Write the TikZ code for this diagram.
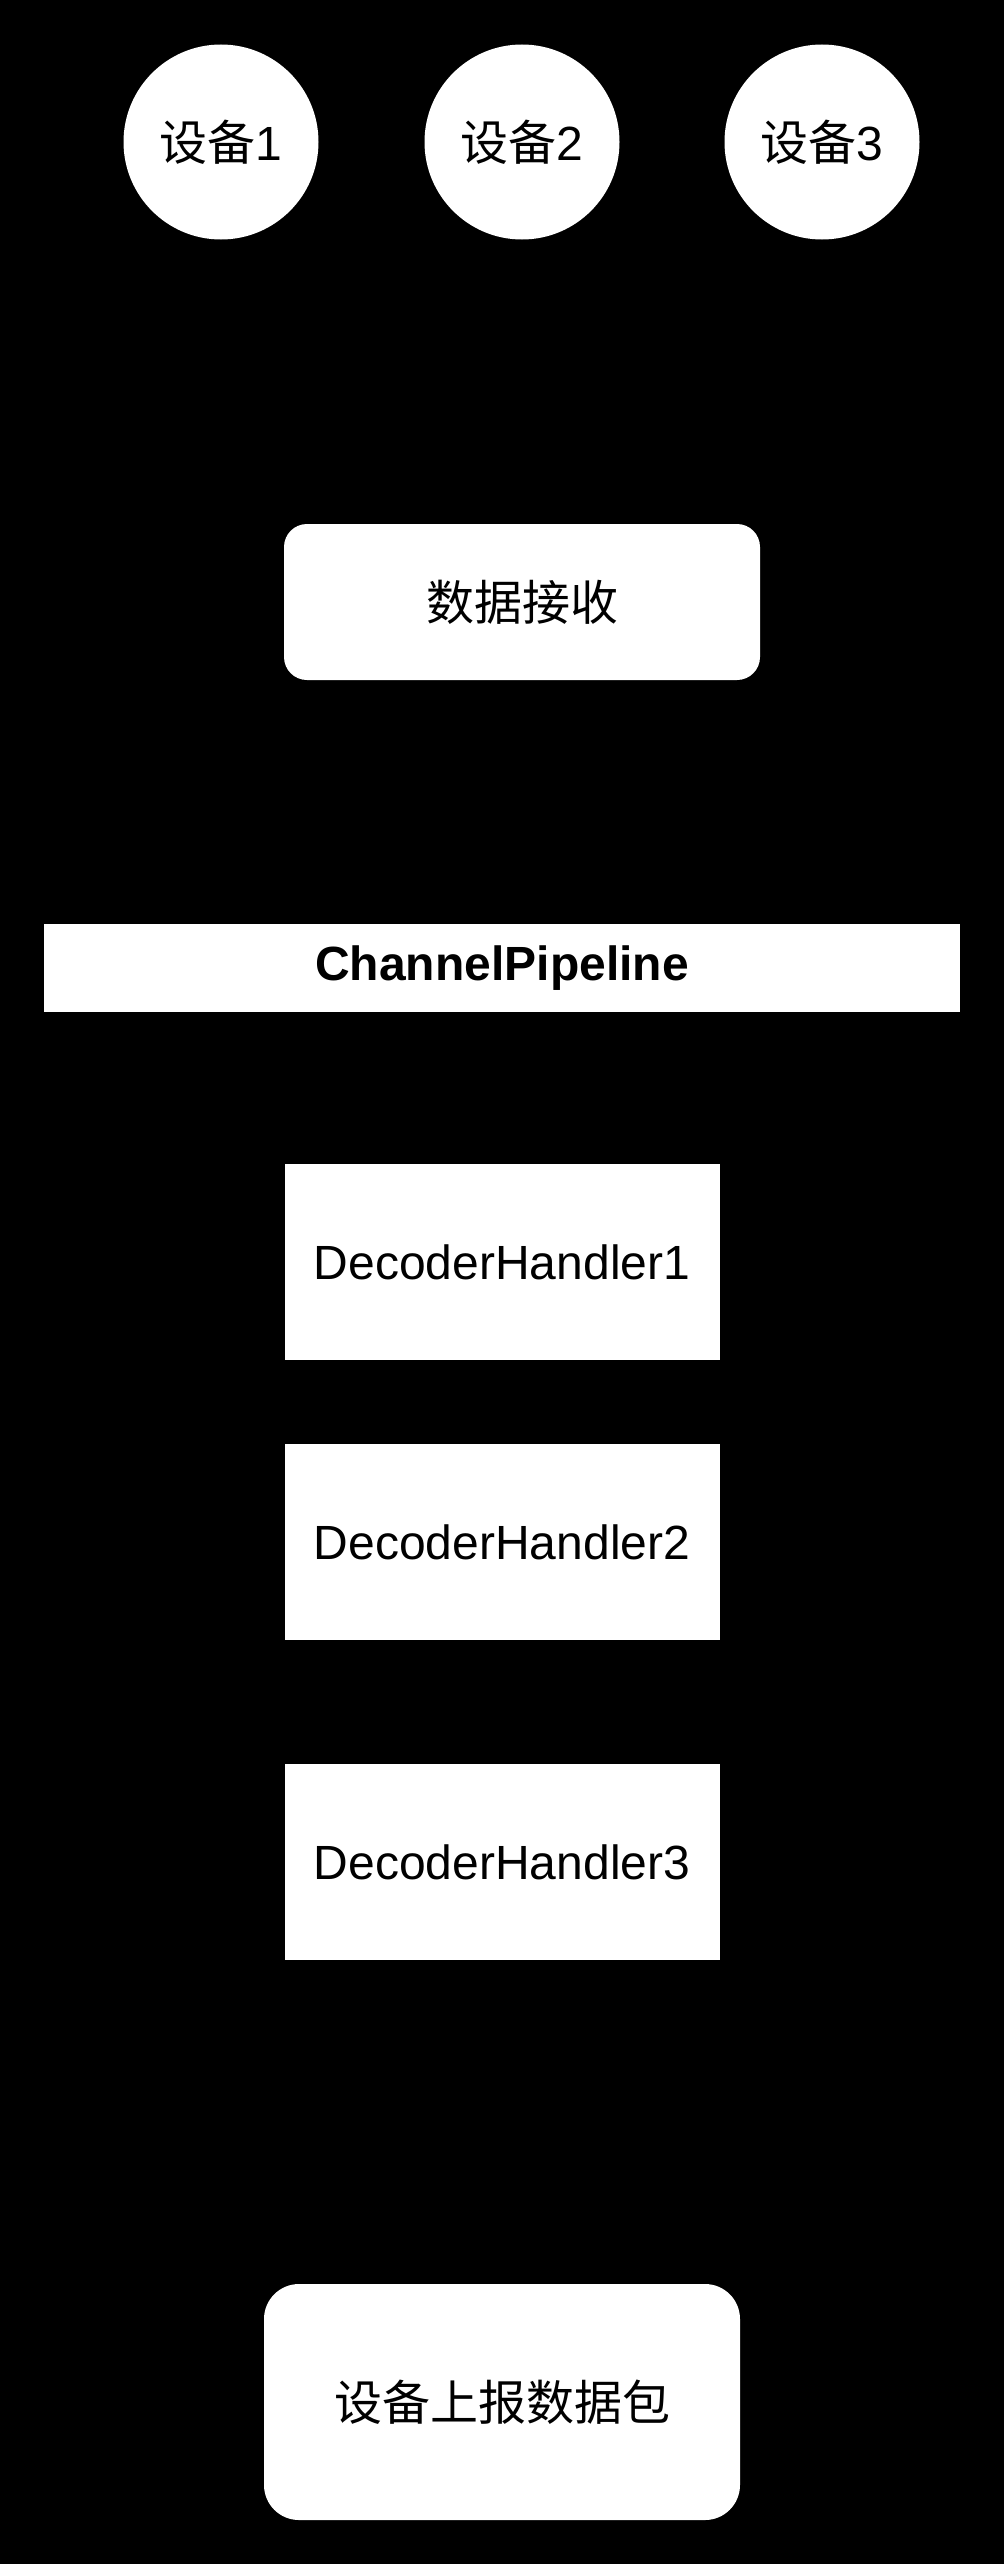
\documentclass[tikz,border=0pt]{standalone}
\usepackage{fontspec}
\setmainfont{Liberation Sans}
\newfontfamily\cjk{Noto Sans CJK SC}
\begin{document}
\begin{tikzpicture}[x=1pt,y=-1pt,
  every node/.style={font=\fontsize{48}{58}\selectfont, text=black, inner sep=0pt},
  dev/.style={circle, fill=white, minimum size=195pt},
  rbox/.style={rectangle, rounded corners=#1, fill=white},
  sbox/.style={rectangle, fill=white, minimum width=435pt, minimum height=196pt}]
\fill[black] (0,0) rectangle (1004,2564);
\useasboundingbox (0,0) rectangle (1004,2564);
\node[dev] (d1) at (221,142) {{\cjk 设备}1};
\node[dev] (d2) at (522,142) {{\cjk 设备}2};
\node[dev] (d3) at (822,142) {{\cjk 设备}3};
\node[rbox=23pt, minimum width=476pt, minimum height=156pt] (recv) at (522,602) {\cjk 数据接收};
\node[rectangle, fill=white, minimum width=916pt, minimum height=88pt, font=\fontsize{48}{58}\selectfont\bfseries] (pipe) at (502,968) {ChannelPipeline};
\node[sbox] (h1) at (502,1262) {DecoderHandler1};
\node[sbox] (h2) at (502,1542) {DecoderHandler2};
\node[sbox] (h3) at (502,1862) {DecoderHandler3};
\node[rbox=35pt, minimum width=476pt, minimum height=236pt] (pkt) at (502,2402) {\cjk 设备上报数据包};
\end{tikzpicture}
\end{document}
